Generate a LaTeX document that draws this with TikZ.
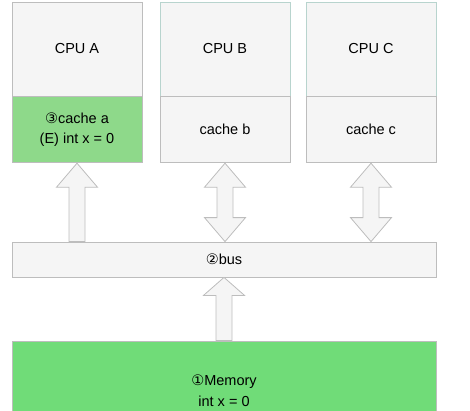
\documentclass[tikz,border=0pt]{standalone}
\usepackage{fontspec}
\setmainfont{Liberation Sans}
\newfontfamily\circfont{DejaVu Sans}
\usetikzlibrary{positioning, calc}
\definecolor{bGray}{HTML}{BDBDBD}
\definecolor{bFill}{HTML}{F5F5F5}
\definecolor{bTeal}{HTML}{B8D4CE}
\definecolor{cGreen}{HTML}{8ED98A}
\definecolor{mGreen}{HTML}{70DC78}
\newcommand{\circnum}[1]{{\circfont #1}}

\begin{document}
\begin{tikzpicture}[x=1pt, y=-1pt,
      box/.style={draw=bGray, fill=bFill, line width=0.8pt, minimum width=130pt,
        inner sep=0pt, align=center, font=\fontsize{14.5}{20.5}\selectfont},
      blk/.style={draw=bGray, fill=bFill, line width=0.8pt, line join=miter}]
    \useasboundingbox (0,0) rectangle (470,410);
    % cpus and caches
    \node[box, minimum height=94pt]                (cpuA) at (77,49)  {CPU A};
    \node[box, draw=bTeal, minimum height=94pt]    (cpuB) at (225,49) {CPU B};
    \node[box, draw=bTeal, minimum height=94pt]    (cpuC) at (371,49) {CPU C};
    \node[box, fill=cGreen, minimum height=66pt, below=0pt of cpuA] (cacheA)
      {\circnum{③}cache a\\(E) int x = 0};
    \node[box, minimum height=66pt, below=0pt of cpuB] (cacheB) {cache b};
    \node[box, minimum height=66pt, below=0pt of cpuC] (cacheC) {cache c};
    \node[box, minimum width=424pt, minimum height=35pt] (bus) at (224,259.5) {\circnum{②}bus};
    \node[box, fill=mGreen, minimum width=424pt, minimum height=99pt] (mem) at (224,390.5)
      {\circnum{①}Memory\\int x = 0};
    % block arrows
    \draw[blk] let \p1=(bus.north -| cacheA), \p2=(cacheA.south) in
      (\x1-8pt,\y1) -- (\x1-8pt,\y2-24pt) -- (\x1-20.5pt,\y2-24pt) -- (\x2,\y2)
      -- (\x1+20.5pt,\y2-24pt) -- (\x1+8pt,\y2-24pt) -- (\x1+8pt,\y1) -- cycle;
    \foreach \c in {cacheB, cacheC}
      \draw[blk] let \p1=(bus.north -| \c), \p2=(\c.south) in
        (\x1,\y1) -- (\x1-20.5pt,\y1+24pt) -- (\x1-8pt,\y1+24pt) -- (\x1-8pt,\y2-24pt)
        -- (\x1-20.5pt,\y2-24pt) -- (\x2,\y2) -- (\x1+20.5pt,\y2-24pt) -- (\x1+8pt,\y2-24pt)
        -- (\x1+8pt,\y1+24pt) -- (\x1+20.5pt,\y1+24pt) -- cycle;
    \draw[blk] let \p1=(mem.north), \p2=(bus.south) in
      (\x1-8pt,\y1) -- (\x1-8pt,\y2-18pt) -- (\x1-20.5pt,\y2-18pt) -- (\x2,\y2)
      -- (\x1+20.5pt,\y2-18pt) -- (\x1+8pt,\y2-18pt) -- (\x1+8pt,\y1) -- cycle;
  \end{tikzpicture}
\end{document}
